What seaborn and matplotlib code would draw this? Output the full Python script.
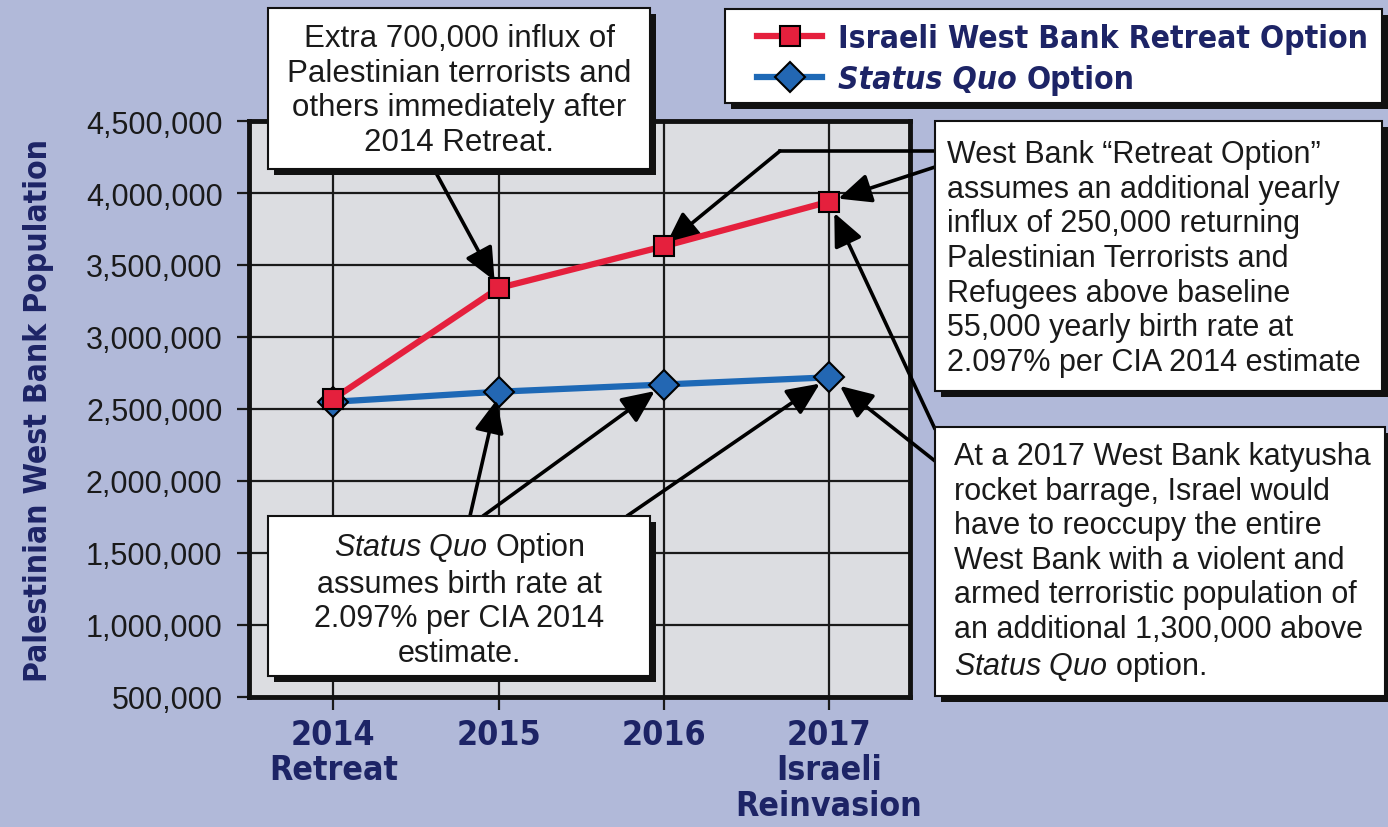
import os
import numpy as np
import pandas as pd
import matplotlib
matplotlib.use("Agg")
import matplotlib.pyplot as plt
from matplotlib.patches import Rectangle
from matplotlib.lines import Line2D
from matplotlib.ticker import StrMethodFormatter
from matplotlib.font_manager import FontProperties, fontManager, weight_dict
import seaborn as sns

# data
years = ["2014", "2015", "2016", "2017"]
year_labels = ["2014\nRetreat", "2015", "2016", "2017\nIsraeli\nReinvasion"]
retreat = [2570000, 3340000, 3630000, 3940000]
status_quo = [2550000, 2620000, 2670000, 2720000]
y_ticks = [500000, 1000000, 1500000, 2000000, 2500000, 3000000, 3500000, 4000000, 4500000]

retreat_label = "Israeli West Bank Retreat Option"
status_label = "Status Quo"
status_rest = "Option"
y_title = "Palestinian West Bank Population"

note_influx = "Extra 700,000 influx of\nPalestinian terrorists and\nothers immediately after\n2014 Retreat."
note_retreat = ("West Bank \u201cRetreat Option\u201d\nassumes an additional yearly\n"
                "influx of 250,000 returning\nPalestinian Terrorists and\n"
                "Refugees above baseline\n55,000 yearly birth rate at\n"
                "2.097% per CIA 2014 estimate")
note_reinvade = ("At a 2017 West Bank katyusha\nrocket barrage, Israel would\n"
                 "have to reoccupy the entire\nWest Bank with a violent and\n"
                 "armed terroristic population of\nan additional 1,300,000 above\n"
                 r"$\mathit{Status\ Quo}$ option.")
note_status = ("$\\mathit{Status\\ Quo}$ Option\nassumes birth rate at\n"
               "2.097% per CIA 2014\nestimate.")

plain = "Liberation Sans"
plt.rcParams["font.family"] = [plain, "DejaVu Sans"]
plt.rcParams["mathtext.fontset"] = "custom"
plt.rcParams["mathtext.rm"] = plain
plt.rcParams["mathtext.it"] = plain + ":italic"


def condensed_file(italic):
    # look for a narrow / condensed bold face among the installed fonts
    best, best_rank = None, 99
    for f in fontManager.ttflist:
        key = (f.name + " " + os.path.basename(f.fname)).lower()
        if not ("narrow" in key or "condensed" in key or "cond" in str(f.stretch)):
            continue
        w = f.weight if isinstance(f.weight, int) else weight_dict.get(f.weight, 400)
        if w < 600 or "semi" in key or "black" in key or "extra" in key:
            continue
        if italic == (f.style == "normal"):
            continue
        rank = 0 if "liberation" in key else 1 if "dejavu" in key else 2
        if rank < best_rank:
            best, best_rank = f.fname, rank
    return best


p_b = condensed_file(False)
p_bi = condensed_file(True)
bold_cond = FontProperties(fname=p_b) if p_b else FontProperties(family="Roboto", weight="bold")
bold_cond_it = (FontProperties(fname=p_bi) if p_bi else
                FontProperties(family="Roboto", weight="bold", style="italic"))

bg = "#b1b9d9"
navy = "#1d2466"
red = "#e5203d"
blue = "#1e69b6"
W, H = 1388, 828
PX = 100 / 72

df = pd.DataFrame({"pos": np.arange(len(years)), "retreat": retreat, "status": status_quo})

fig = plt.figure(figsize=(13.88, 8.28), dpi=100, facecolor=bg)
renderer = fig.canvas.get_renderer()


def measure(s, fp, size):
    t = fig.text(0, 0, s, fontproperties=fp, size=size)
    bb = t.get_window_extent(renderer)
    t.remove()
    return bb


# size the condensed texts so they take about the same room as in the original
leg_size = 29 * 530 / measure(retreat_label, bold_cond, 29).width
tick_size = 1.05 * 30 * 178 / measure("Reinvasion", bold_cond, 30).width
ylab_size = 1.03 * 29 * 527 / measure(y_title, bold_cond, 29).width


def fp_size(fp, size):
    q = fp.copy()
    q.set_size(size)
    return q


ax = fig.add_axes([249 / W, 1 - 698 / H, (910 - 249) / W, (698 - 122) / H])
ax.set_facecolor("#dcdde1")

sns.lineplot(data=df, x="pos", y="status", ax=ax, color=blue, lw=4.5, marker="D",
             markersize=15, markerfacecolor="#2367b3", markeredgecolor="black",
             markeredgewidth=1.5, label=status_label, zorder=3)
sns.lineplot(data=df, x="pos", y="retreat", ax=ax, color=red, lw=4.5, marker="s",
             markersize=14.5, markerfacecolor=red, markeredgecolor="black",
             markeredgewidth=1.5, label=retreat_label, zorder=4)
handles, labels = ax.get_legend_handles_labels()
ax.get_legend().remove()

ax.set_xlim(-0.51, 3.49)
ax.set_ylim(y_ticks[0], y_ticks[-1])
ax.set_xticks(df["pos"])
ax.set_xticklabels(year_labels, fontproperties=fp_size(bold_cond, tick_size),
                   color=navy, linespacing=1.1)
ax.set_yticks(y_ticks)
ax.yaxis.set_major_formatter(StrMethodFormatter("{x:,.0f}"))
for t in ax.get_yticklabels():
    t.set_fontsize(22)
    t.set_color("#1a1a1a")
ax.set_xlabel("")
ax.set_ylabel(y_title, fontproperties=fp_size(bold_cond, ylab_size), color=navy)
ax.yaxis.set_label_coords((54 - 249) / (910 - 249), 0.5)
ax.grid(True, color="#1a1a1a", lw=1.6)
ax.set_axisbelow(True)
ax.tick_params(axis="both", direction="out", length=9, width=1.6, color="#1a1a1a")
ax.tick_params(axis="x", pad=6)
ax.tick_params(axis="y", pad=10)
for s in ax.spines.values():
    s.set_linewidth(3.5)
    s.set_color("#111111")


def fx(px):
    return px / W


def fy(py):
    return 1 - py / H


def box(x0, y0, x1, y1):
    fig.add_artist(Rectangle((fx(x0 + 6), fy(y1 + 6)), (x1 - x0) / W, (y1 - y0) / H,
                             transform=fig.transFigure, fc="#111111", ec="none", zorder=5))
    fig.add_artist(Rectangle((fx(x0), fy(y1)), (x1 - x0) / W, (y1 - y0) / H,
                             transform=fig.transFigure, fc="white", ec="#111111",
                             lw=1.5, zorder=6))


box(268, 9, 650, 170)
fig.text(fx(459), fy(91), note_influx, ha="center", va="center", fontsize=22.5,
         color="#1a1a1a", zorder=7)
box(935, 122, 1382, 392)
fig.text(fx(947), fy(259), note_retreat, ha="left", va="center", fontsize=22,
         color="#1a1a1a", zorder=7)
box(935, 428, 1385, 697)
fig.text(fx(954), fy(563), note_reinvade, ha="left", va="center", fontsize=22,
         color="#1a1a1a", zorder=7)
box(268, 517, 650, 677)
fig.text(fx(459), fy(600), note_status, ha="center", va="center", fontsize=22,
         color="#1a1a1a", zorder=7)

# legend in its own shadowed box
box(725, 10, 1382, 104)
leg_px = leg_size * PX
row_h = measure(retreat_label, bold_cond, leg_size).height
leg = fig.legend([handles[1], handles[0]], [labels[1], labels[0]], loc="center left",
                 bbox_to_anchor=(fx(757), fy(60)), frameon=False,
                 prop=fp_size(bold_cond, leg_size), labelcolor=navy,
                 handlelength=65 / leg_px, handletextpad=16 / leg_px,
                 labelspacing=max(0.0, (41 - row_h) / leg_px), borderpad=0,
                 borderaxespad=0)
leg.set_zorder(10)
leg_texts = leg.get_texts()
leg_texts[1].set_fontproperties(fp_size(bold_cond_it, leg_size))

fig.canvas.draw()
t1 = leg_texts[1]
bb = t1.get_window_extent(renderer)
bx, by = t1.get_transform().transform(t1.get_position())
space = measure("a a", bold_cond, leg_size).width - measure("aa", bold_cond, leg_size).width
fig.text(fx(bb.x1 + space), by / H, status_rest, fontproperties=fp_size(bold_cond, leg_size),
         color=navy, ha="left", va="baseline", zorder=11)

# callout arrows
arrow = dict(arrowstyle="-|>,head_length=1.0,head_width=0.45", mutation_scale=20,
             lw=2.6, color="black", shrinkA=0)


def callout(px, py, xi, yv, shrink):
    ax.annotate("", xy=(xi, yv), xycoords="data", xytext=(px, H - py),
                textcoords="figure pixels", arrowprops=dict(arrow, shrinkB=shrink))


callout(435, 172, 1, retreat[1], 6)
fig.add_artist(Line2D([fx(935), fx(780)], [fy(152), fy(152)], transform=fig.transFigure,
                      color="black", lw=2.6, zorder=4))
callout(780, 152, 2, retreat[2], 2)
callout(935, 168, 3, retreat[3], 7)
callout(935, 430, 3, retreat[3], 9)
callout(935, 462, 3, status_quo[3], 10)
callout(470, 517, 1, status_quo[1], 6)
callout(483, 517, 2, status_quo[2], 8)
callout(627, 517, 3, status_quo[3], 8)

fig.savefig("out.png", dpi=100, facecolor=bg)
